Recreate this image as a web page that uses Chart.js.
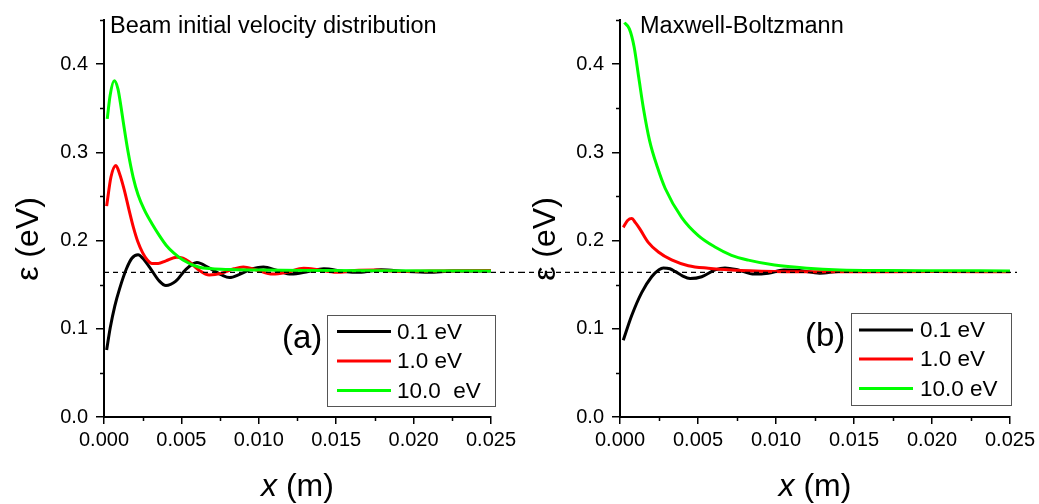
<!DOCTYPE html>
<html>
<head>
<meta charset="utf-8">
<script src="https://cdn.jsdelivr.net/npm/chart.js@4.4.1/dist/chart.umd.min.js"></script>
<style>
  body { margin: 0; background: #fff; }
  canvas { position: absolute; top: 0; }
  #chartA { left: 0; }
  #chartB { left: 520px; }
</style>
</head>
<body>
<canvas id="chartA" width="520" height="504"></canvas>
<canvas id="chartB" width="519" height="504"></canvas>
<script>
const xTicks = [0, 0.005, 0.01, 0.015, 0.02, 0.025];
const xMinor = [0.0025, 0.0075, 0.0125, 0.0175, 0.0225];
const yTicks = [0, 0.1, 0.2, 0.3, 0.4];
const yMinor = [0.05, 0.15, 0.25, 0.35, 0.45];
const labelsA = ['0.1 eV', '1.0 eV', '10.0  eV'];
const labelsB = ['0.1 eV', '1.0 eV', '10.0 eV'];
const colors = ['#000000', '#ff0000', '#00ff00'];
const thermalLevel = 0.164;

// (a) beam initial velocity distribution
const beamLowX = [0.00017, 0.0004, 0.0007, 0.001, 0.00145, 0.0018, 0.0022, 0.0026, 0.00294, 0.00358, 0.004, 0.00464, 0.00528, 0.006, 0.00678, 0.0076, 0.0081, 0.0088, 0.0096, 0.0103, 0.0112, 0.0121, 0.0132, 0.0142, 0.0155, 0.0165, 0.0179, 0.0195, 0.021, 0.0225, 0.025];
const beamLowY = [0.076, 0.101, 0.126, 0.145, 0.168, 0.180, 0.184, 0.178, 0.170, 0.154, 0.149, 0.154, 0.167, 0.175, 0.169, 0.161, 0.158, 0.162, 0.168, 0.170, 0.166, 0.162, 0.165, 0.168, 0.165, 0.164, 0.167, 0.165, 0.164, 0.1655, 0.1655];
const beamMidX = [0.00017, 0.00045, 0.00077, 0.001, 0.0013, 0.0016, 0.0019, 0.0022, 0.0025, 0.0028, 0.0031, 0.0035, 0.004, 0.0047, 0.0051, 0.0055, 0.0061, 0.0068, 0.0076, 0.0084, 0.009, 0.0098, 0.0109, 0.0118, 0.0129, 0.0138, 0.015, 0.0162, 0.0175, 0.019, 0.021, 0.025];
const beamMidY = [0.239, 0.272, 0.285, 0.276, 0.258, 0.236, 0.215, 0.198, 0.186, 0.178, 0.174, 0.174, 0.177, 0.181, 0.180, 0.176, 0.167, 0.161, 0.163, 0.168, 0.170, 0.167, 0.162, 0.164, 0.1685, 0.167, 0.164, 0.166, 0.1665, 0.165, 0.1655, 0.166];
const beamHighX = [0.00021, 0.0004, 0.00066, 0.0009, 0.00105, 0.00124, 0.00156, 0.00188, 0.0022, 0.0026, 0.0031, 0.0036, 0.004, 0.0045, 0.0051, 0.0061, 0.007, 0.0081, 0.01, 0.014, 0.018, 0.025];
const beamHighY = [0.338, 0.365, 0.381, 0.372, 0.357, 0.335, 0.300, 0.272, 0.252, 0.235, 0.219, 0.205, 0.195, 0.186, 0.178, 0.170, 0.168, 0.1672, 0.1665, 0.166, 0.1657, 0.1656];

// (b) Maxwell-Boltzmann
const mbLowX = [0.00021, 0.00075, 0.00139, 0.00203, 0.0025, 0.00278, 0.0032, 0.00353, 0.004, 0.00449, 0.00524, 0.00609, 0.00673, 0.00758, 0.0086, 0.0095, 0.0105, 0.0115, 0.0128, 0.014, 0.016, 0.02, 0.025];
const mbLowY = [0.087, 0.115, 0.141, 0.159, 0.167, 0.169, 0.168, 0.165, 0.160, 0.157, 0.159, 0.1667, 0.169, 0.1667, 0.162, 0.163, 0.1665, 0.166, 0.163, 0.165, 0.1655, 0.165, 0.165];
const mbMidX = [0.00021, 0.0005, 0.00075, 0.001, 0.00128, 0.00181, 0.00246, 0.00331, 0.00438, 0.00566, 0.00715, 0.0099, 0.012, 0.015, 0.02, 0.025];
const mbMidY = [0.215, 0.223, 0.225, 0.220, 0.213, 0.198, 0.187, 0.178, 0.1715, 0.1686, 0.1667, 0.165, 0.1645, 0.1645, 0.165, 0.1645];
const mbHighX = [0.00028, 0.0006, 0.0009, 0.0012, 0.0015, 0.0019, 0.0024, 0.0029, 0.00396, 0.00502, 0.00609, 0.00715, 0.00823, 0.0099, 0.012, 0.0141, 0.017, 0.02, 0.025];
const mbHighY = [0.447, 0.440, 0.420, 0.385, 0.350, 0.313, 0.283, 0.259, 0.226, 0.2056, 0.1927, 0.1833, 0.1778, 0.1722, 0.1686, 0.1667, 0.166, 0.1658, 0.1656];

const FONT = "'Liberation Sans', Arial, sans-serif";

// titles, legend, minor ticks and the dashed reference line
const decoPlugin = {
  id: 'deco',
  afterDatasetsDraw(chart, args, o) {
    const ctx = chart.ctx;
    const py = chart.scales.y.getPixelForValue(thermalLevel);
    ctx.save();
    ctx.strokeStyle = '#000';
    ctx.lineWidth = 1.2;
    ctx.setLineDash([5, 4]);
    ctx.beginPath();
    ctx.moveTo(o.dashFrom, py);
    ctx.lineTo(o.dashTo, py);
    ctx.stroke();
    ctx.restore();
  },
  afterDraw(chart, args, o) {
    const ctx = chart.ctx;
    const a = chart.chartArea;
    const xs = chart.scales.x, ys = chart.scales.y;
    ctx.save();
    ctx.strokeStyle = '#000';
    ctx.lineWidth = 1.5;
    ctx.beginPath();
    yMinor.forEach(v => {
      const p = Math.round(ys.getPixelForValue(v)) + 0.5;
      ctx.moveTo(a.left - 4, p);
      ctx.lineTo(a.left, p);
    });
    xMinor.forEach(v => {
      const p = Math.round(xs.getPixelForValue(v)) + 0.5;
      ctx.moveTo(p, a.bottom);
      ctx.lineTo(p, a.bottom + 4);
    });
    ctx.stroke();

    ctx.fillStyle = '#000';
    ctx.textBaseline = 'alphabetic';
    ctx.textAlign = 'left';
    ctx.font = '23.5px ' + FONT;
    ctx.fillText(o.title, a.left + o.titleDx, 33);

    // x axis title with italic x
    ctx.font = 'italic 32px ' + FONT;
    const w1 = ctx.measureText('x').width;
    ctx.font = '32px ' + FONT;
    const w2 = ctx.measureText(' (m)').width;
    const x0 = (a.left + a.right) / 2 - (w1 + w2) / 2;
    ctx.font = 'italic 32px ' + FONT;
    ctx.fillText('x', x0, 496);
    ctx.font = '32px ' + FONT;
    ctx.fillText(' (m)', x0 + w1, 496);

    // y axis title
    ctx.save();
    ctx.translate(o.yTitleX, 239);
    ctx.rotate(-Math.PI / 2);
    ctx.textAlign = 'center';
    ctx.textBaseline = 'middle';
    ctx.font = '32px ' + FONT;
    ctx.fillText('ε (eV)', 0, 0);
    ctx.restore();

    // panel letter
    ctx.font = '33px ' + FONT;
    ctx.fillText(o.letter, o.letterX, o.letterY);

    // legend
    const L = o.legend;
    ctx.strokeStyle = '#555';
    ctx.lineWidth = 1;
    ctx.strokeRect(L.x + 0.5, L.y + 0.5, L.w, L.h);
    ctx.font = '22.5px ' + FONT;
    ctx.textBaseline = 'middle';
    chart.data.datasets.forEach((d, i) => {
      const ly = L.rows[i];
      ctx.strokeStyle = d.borderColor;
      ctx.lineWidth = 3;
      ctx.beginPath();
      ctx.moveTo(L.lineX, ly);
      ctx.lineTo(L.lineX + 54, ly);
      ctx.stroke();
      ctx.fillStyle = '#000';
      ctx.fillText(d.label, L.textX, ly + 1);
    });
    ctx.restore();
  }
};

function makeChart(id, xsArr, ysArr, labels, deco, yWidth, padRight) {
  return new Chart(document.getElementById(id), {
    type: 'line',
    data: {
      datasets: xsArr.map((xv, i) => ({
        label: labels[i],
        data: xv.map((v, k) => ({ x: v, y: ysArr[i][k] })),
        borderColor: colors[i],
        borderWidth: 3,
        pointRadius: 0,
        fill: false,
        cubicInterpolationMode: 'monotone',
        order: 3 - i
      }))
    },
    options: {
      responsive: false,
      animation: false,
      devicePixelRatio: 1,
      layout: { padding: { top: 11, right: padRight, left: 0, bottom: 0 } },
      plugins: { legend: { display: false }, tooltip: { enabled: false }, deco: deco },
      scales: {
        x: {
          type: 'linear',
          min: 0,
          max: 0.025,
          afterBuildTicks: s => { s.ticks = xTicks.map(v => ({ value: v })); },
          afterFit: s => { s.height = 87; },
          ticks: {
            color: '#000',
            font: { family: FONT, size: 20 },
            padding: 4,
            maxRotation: 0,
            autoSkip: false,
            callback: v => v.toFixed(3)
          },
          grid: { drawOnChartArea: false, drawTicks: true, tickLength: 7, color: '#000', lineWidth: 1.5 },
          border: { display: true, color: '#000', width: 2 }
        },
        y: {
          type: 'linear',
          min: 0,
          max: 0.45,
          afterBuildTicks: s => { s.ticks = yTicks.map(v => ({ value: v })); },
          afterFit: s => { s.width = yWidth; },
          ticks: {
            color: '#000',
            font: { family: FONT, size: 20 },
            padding: 8,
            autoSkip: false,
            callback: v => v.toFixed(1)
          },
          grid: { drawOnChartArea: false, drawTicks: true, tickLength: 8, color: '#000', lineWidth: 1.5 },
          border: { display: true, color: '#000', width: 2 }
        }
      }
    },
    plugins: [decoPlugin]
  });
}

makeChart('chartA',
  [beamLowX, beamMidX, beamHighX],
  [beamLowY, beamMidY, beamHighY],
  labelsA,
  {
    title: 'Beam initial velocity distribution', titleDx: 6,
    yTitleX: 29, letter: '(a)', letterX: 282, letterY: 348,
    dashFrom: 104, dashTo: 520,
    legend: { x: 327, y: 315, w: 168, h: 91, lineX: 337, textX: 397, rows: [331.5, 361, 390.5] }
  },
  104, 25);

makeChart('chartB',
  [mbLowX, mbMidX, mbHighX],
  [mbLowY, mbMidY, mbHighY],
  labelsB,
  {
    title: 'Maxwell-Boltzmann', titleDx: 20,
    yTitleX: 26, letter: '(b)', letterX: 285, letterY: 346,
    dashFrom: 0, dashTo: 497,
    legend: { x: 331, y: 313, w: 160, h: 92, lineX: 339, textX: 400, rows: [330, 359, 388.5] }
  },
  100, 29);
</script>
</body>
</html>
